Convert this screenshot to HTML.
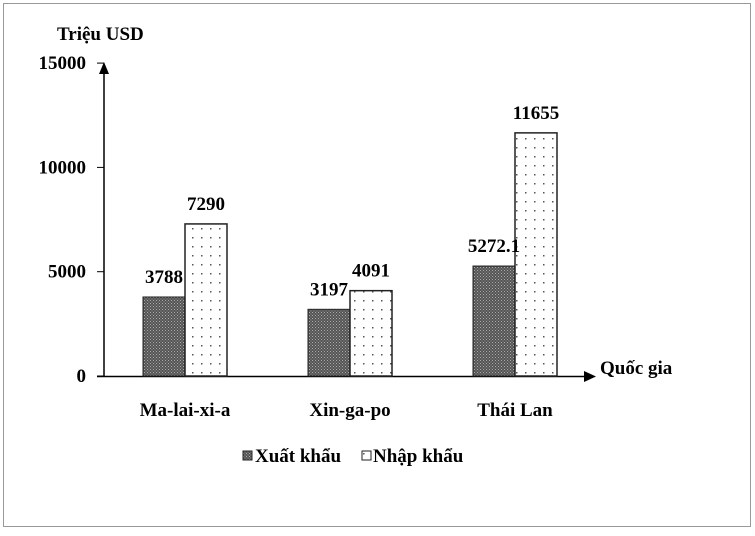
<!DOCTYPE html>
<html><head><meta charset="utf-8"><style>
body{margin:0;background:#fff;}
svg text{font-family:"Liberation Serif","DejaVu Serif",serif;font-weight:bold;font-size:19px;fill:#000;}
</style></head><body>
<svg id="chart" width="755" height="531" xmlns="http://www.w3.org/2000/svg">
<defs>
<pattern id="dark" width="3" height="3" patternUnits="userSpaceOnUse"><rect width="3" height="3" fill="#555"/><rect width="1" height="1" fill="#aaa"/><rect x="1.5" y="1.5" width="1" height="1" fill="#999"/></pattern>
<pattern id="dots" width="9" height="9" patternUnits="userSpaceOnUse"><rect width="9" height="9" fill="#fff"/><rect x="3" y="3" width="1.5" height="1.5" fill="#555"/></pattern>
</defs>
<rect x="3.5" y="3.5" width="747" height="523" fill="#fff" stroke="#999"/>
<g id="plot"></g>
</svg>
<script>
const categories=["Ma-lai-xi-a","Xin-ga-po","Thái Lan"];
const exportVals=[3788,3197,5272.1];
const importVals=[7290,4091,11655];
const exportLabels=["3788","3197","5272.1"];
const importLabels=["7290","4091","11655"];
const yTicks=[0,5000,10000,15000];
const NS="http://www.w3.org/2000/svg";
const g=document.getElementById('plot');
const y0=376,k=0.02086;
const y=v=>y0-v*k;
const cx=i=>185+i*165;
function el(t,a,txt){const e=document.createElementNS(NS,t);for(const n in a)e.setAttribute(n,a[n]);if(txt!==undefined)e.textContent=txt;g.appendChild(e);return e;}
let e=el('line',{x1:104,y1:376,x2:104,y2:72,stroke:'#000','stroke-width':1.5});


e=el('polygon',{points:'99,74 109,74 104,62',fill:'#000'});


e=el('line',{x1:97,y1:376.5,x2:586,y2:376.5,stroke:'#000','stroke-width':1.5});


e=el('polygon',{points:'584,371 584,382 596,376.5',fill:'#000'});


yTicks.forEach(t=>{
 let l=el('line',{x1:97,y1:y(t),x2:104,y2:y(t),stroke:'#000'});
 
 
 let tx=el('text',{x:86,y:y(t)+6,'text-anchor':'end'},String(t));
 
 
});
e=el('text',{x:57,y:40},'Triệu USD');


e=el('text',{x:600,y:374},'Quốc gia');


categories.forEach((c,i)=>{
 const x=cx(i);
 let b=el('rect',{x:x-42,y:y(exportVals[i]),width:42,height:exportVals[i]*k,fill:'url(#dark)',stroke:'#222'});
 
 
 b=el('rect',{x:x,y:y(importVals[i]),width:42,height:importVals[i]*k,fill:'url(#dots)',stroke:'#222','stroke-width':1.5});
 
 
 let t=el('text',{x:x-21,y:y(exportVals[i])-14,'text-anchor':'middle'},exportLabels[i]);
 
 
 t=el('text',{x:x+21,y:y(importVals[i])-14,'text-anchor':'middle'},importLabels[i]);
 
 
 t=el('text',{x:x,y:416,'text-anchor':'middle'},c);
 
 
});
e=el('rect',{x:243,y:451,width:9,height:9,fill:'url(#dark)',stroke:'#222'});


e=el('text',{x:255,y:462},'Xuất khẩu');


e=el('rect',{x:362,y:451,width:9,height:9,fill:'url(#dots)',stroke:'#222'});


e=el('text',{x:373,y:462},'Nhập khẩu');


</script>
</body></html>
